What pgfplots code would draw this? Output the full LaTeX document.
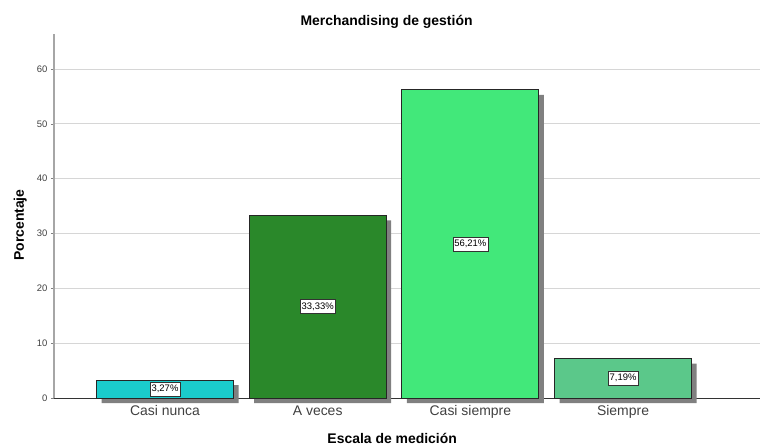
\documentclass[border=0pt]{standalone}
\usepackage{fontspec}
\setmainfont{Liberation Sans}
\usepackage{pgfplots}
\pgfplotsset{compat=1.18}
\definecolor{cnunca}{RGB}{26,204,204}
\definecolor{aveces}{RGB}{42,136,42}
\definecolor{csiempre}{RGB}{66,232,122}
\definecolor{siempre}{RGB}{91,200,138}
\definecolor{shadowgray}{RGB}{128,128,128}

\begin{document}
\begin{tikzpicture}
\path[use as bounding box] (0,0) rectangle (761bp,448bp);
\begin{axis}[
  at={(54bp,50bp)}, anchor=south west,
  scale only axis, width=706bp, height=364bp,
  xmin=-0.727, xmax=3.897, ymin=0, ymax=66.4,
  axis x line=bottom, axis y line=left, axis line style={-},
  x axis line style={draw=black!80, line width=0.8pt},
  y axis line style={draw=black!35, line width=1.2pt},
  xtick={0,1,2,3},
  xticklabels={Casi nunca, A veces, Casi siempre, Siempre},
  x tick style={draw=none},
  x tick label style={font=\fontsize{14}{16}\selectfont, text=black!75, yshift=-1bp},
  ytick={0,10,...,60},
  y tick style={draw=black!50, line width=0.5pt},
  tick align=outside, major tick length=3bp,
  y tick label style={font=\fontsize{9.5}{11}\selectfont, text=black!75},
  /pgf/number format/assume math mode=true,
  ymajorgrids, grid style={black!16, line width=0.9pt},
  clip=false,
  title={Merchandising de gestión},
  title style={at={(0.471,1)}, anchor=base, yshift=3bp,
    font=\bfseries\fontsize{14}{16}\selectfont},
  xlabel={Escala de medición},
  xlabel style={at={(0.479,0)}, anchor=base, yshift=-45bp,
    font=\bfseries\fontsize{14}{16}\selectfont},
  ylabel={Porcentaje},
  ylabel style={at={(-0.0425,0.475)}, anchor=base,
    font=\bfseries\fontsize{14}{16}\selectfont},
]
% shadows
\addplot[ybar, bar width=137bp, bar shift=5bp, yshift=-5bp, fill=shadowgray, draw=none]
  coordinates {(0,3.27) (1,33.33) (2,56.21) (3,7.19)};
% bars
\addplot[ybar, bar width=137bp, bar shift=0pt, fill=cnunca, draw=black!85, line width=0.8pt]
  coordinates {(0,3.27)};
\addplot[ybar, bar width=137bp, bar shift=0pt, fill=aveces, draw=black!85, line width=0.8pt]
  coordinates {(1,33.33)};
\addplot[ybar, bar width=137bp, bar shift=0pt, fill=csiempre, draw=black!85, line width=0.8pt]
  coordinates {(2,56.21)};
\addplot[ybar, bar width=137bp, bar shift=0pt, fill=siempre, draw=black!85, line width=0.8pt]
  coordinates {(3,7.19)};
% value labels in the middle of each bar
\addplot[draw=none, mark=none, nodes near coords, point meta=explicit symbolic,
  nodes near coords style={anchor=center, fill=white, draw=black!80, line width=0.6pt,
    inner sep=1.5bp, minimum height=14bp, font=\fontsize{9.5}{11}\selectfont}]
  coordinates {(0,1.635) [3,27\%] (1,16.665) [33,33\%] (2,28.105) [56,21\%] (3,3.595) [7,19\%]};
\end{axis}
\end{tikzpicture}
\end{document}
